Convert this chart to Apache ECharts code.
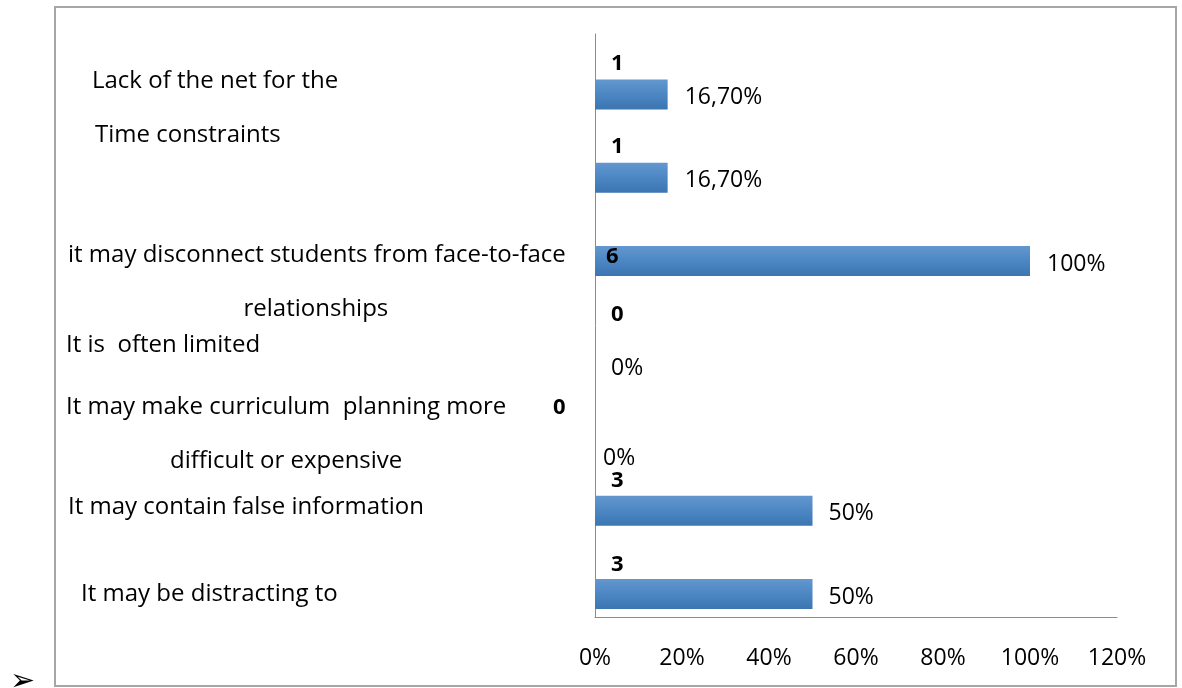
<!DOCTYPE html>
<html>
<head>
<meta charset="utf-8">
<script src="https://cdn.jsdelivr.net/npm/echarts@6/dist/echarts.min.js"></script>
<style>
  html, body { margin: 0; padding: 0; background: #ffffff; }
  #chart { width: 1182px; height: 688px; }
</style>
</head>
<body>
<div id="chart"></div>
<script>
// Category labels (top to bottom); a second entry is the wrapped second line
const categories = [
  ['Lack of the net for the'],
  ['Time constraints'],
  ['it may disconnect students from face-to-face', 'relationships'],
  ['It is  often limited'],
  ['It may make curriculum  planning more', 'difficult or expensive'],
  ['It may contain false information'],
  ['It may be distracting to']
];
// Number of respondents per answer
const respondents = [1, 1, 6, 0, 0, 3, 3];
// Share of respondents, in percent
const shares = [16.7, 16.7, 100, 0, 0, 50, 50];
// Value axis range, in percent
const axisMin = 0, axisMax = 120, axisStep = 20;

// Label placement tweaks (styling only)
const catLabelShift = [[26, 6], [29, -24], [2, 40], [0, 20], [0, 25], [2, 15], [15, 19]];
const countLabelPos = [[16, 22], [16, 22], [11, 48], [16, 23], [-42, 33], [16, 22], [16, 23]];
const shareLabelPos = [[17, 3], [17, 3], [17, 3], [16, 24], [8, 31], [16, 3], [16, 3]];

const FONT = 'Open Sans';
const CAT_FS = 24;
const NUM_FS = 23;

function fmtShare(v) {
  return Number.isInteger(v) ? v + '%' : v.toFixed(2).replace('.', ',') + '%';
}

const rich = {};
categories.forEach((lines, i) => {
  const [dx, dy] = catLabelShift[i];
  const padA = dy >= 0 ? [2 * dy, 0, 0, dx] : [0, 0, -2 * dy, dx];
  const padB = dy >= 0 ? [2 * dy, 0, 0, 0] : [0, 0, -2 * dy, 0];
  rich['a' + i] = { fontFamily: FONT, fontSize: CAT_FS, color: '#000', lineHeight: 54, padding: padA, align: 'left' };
  rich['b' + i] = { fontFamily: FONT, fontSize: CAT_FS, color: '#000', lineHeight: 54, padding: padB, align: 'center' };
});

const chart = echarts.init(document.getElementById('chart'), null, { renderer: 'canvas' });

const barFill = new echarts.graphic.LinearGradient(0, 0, 0, 1, [
  { offset: 0, color: '#6397ce' },
  { offset: 0.5, color: '#4c87c4' },
  { offset: 1, color: '#3c75b0' }
]);

chart.setOption({
  backgroundColor: '#ffffff',
  animation: false,
  grid: { left: 595, right: 65, top: 34, bottom: 71, containLabel: false },
  xAxis: [
    {
      type: 'value',
      min: axisMin, max: axisMax, interval: axisStep,
      axisLine: { show: true, lineStyle: { color: '#8c8c8c', width: 1 } },
      axisTick: { show: false },
      splitLine: { show: false },
      axisLabel: {
        formatter: '{value}%', margin: 30,
        fontFamily: FONT, fontSize: NUM_FS, color: '#000'
      }
    },
    {
      type: 'value', show: false, min: 0, max: 6
    }
  ],
  yAxis: {
    type: 'category',
    inverse: true,
    data: categories.map(c => c.join(' ')),
    axisLine: { show: true, lineStyle: { color: '#8c8c8c', width: 1 } },
    axisTick: { show: false },
    axisLabel: {
      interval: 0,
      align: 'left',
      margin: 529,
      formatter: (v, i) => {
        const lines = categories[i];
        let s = '{a' + i + '|' + lines[0] + '}';
        if (lines[1]) s += '\n{b' + i + '|' + lines[1] + '}';
        return s;
      },
      rich: rich
    }
  },
  series: [
    {
      name: 'Respondents',
      type: 'bar',
      xAxisIndex: 1,
      barWidth: 30,
      barGap: '25%',
      itemStyle: { color: 'rgba(0,0,0,0)' },
      silent: true,
      label: {
        show: true, align: 'left', verticalAlign: 'middle',
        fontFamily: FONT, fontSize: 22, fontWeight: 'bold', color: '#000',
        formatter: p => String(p.value)
      },
      data: respondents.map((v, i) => ({ value: v, label: { position: countLabelPos[i] } }))
    },
    {
      name: 'Share',
      type: 'bar',
      xAxisIndex: 0,
      barWidth: 30,
      barGap: '25%',
      itemStyle: { color: barFill },
      label: {
        show: true, position: 'right',
        fontFamily: FONT, fontSize: NUM_FS, color: '#000',
        formatter: p => fmtShare(p.value)
      },
      data: shares.map((v, i) => ({
        value: v,
        label: { distance: shareLabelPos[i][0], offset: [0, shareLabelPos[i][1]] }
      }))
    }
  ],
  graphic: [
    {
      type: 'rect', silent: true, z: -1,
      shape: { x: 55, y: 7, width: 1121, height: 679 },
      style: { fill: 'none', stroke: '#a6a6a6', lineWidth: 2 }
    },
    {
      type: 'text', left: 10, top: 667,
      style: { text: '➢', font: '30px "DejaVu Sans"', fill: '#000' }
    }
  ]
});
</script>
</body>
</html>
